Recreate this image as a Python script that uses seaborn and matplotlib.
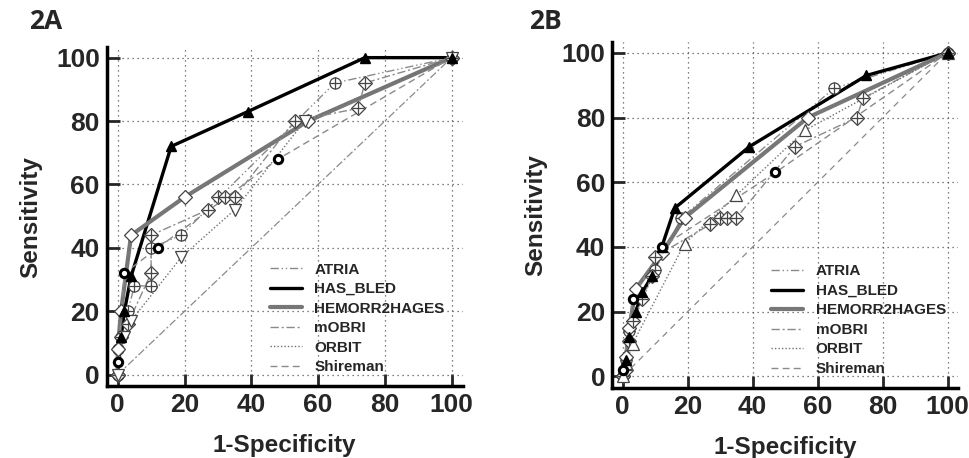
import matplotlib
matplotlib.use("Agg")
import matplotlib.pyplot as plt
from matplotlib.ticker import MultipleLocator
import seaborn as sns
import pandas as pd

# ---- data (1-Specificity %, Sensitivity %) ----
series_names = ["ATRIA", "HAS_BLED", "HEMORR2HAGES", "mOBRI", "ORBIT", "Shireman"]

a_atria_x = [0, 0, 1, 3, 5, 10, 10, 19, 65, 100]
a_atria_y = [0, 8, 12, 20, 28, 28, 40, 44, 92, 100]
a_hasbled_x = [0, 1, 2, 4, 16, 39, 74, 100]
a_hasbled_y = [0, 12, 20, 31, 72, 83, 100, 100]
a_hemorr_x = [0, 0, 1, 4, 20, 57, 100]
a_hemorr_y = [0, 8, 20, 44, 56, 80, 100]
a_mobri_x = [0, 1, 3, 10, 10, 27, 30, 32, 35, 53, 72, 74, 100]
a_mobri_y = [0, 12, 16, 32, 44, 52, 56, 56, 56, 80, 84, 92, 100]
a_orbit_x = [0, 2, 4, 19, 35, 56, 100]
a_orbit_y = [0, 12, 17, 37, 52, 80, 100]
a_shire_x = [0, 0, 2, 12, 48, 100]
a_shire_y = [0, 4, 32, 40, 68, 100]

b_atria_x = [0, 1, 2, 10, 18, 65, 100]
b_atria_y = [0, 5, 14, 33, 49, 89, 100]
b_hasbled_x = [0, 1, 2, 4, 6, 9, 12, 16, 39, 75, 100]
b_hasbled_y = [0, 5, 12, 20, 26, 31, 40, 52, 71, 93, 100]
b_hemorr_x = [0, 1, 2, 4, 12, 19, 57, 100]
b_hemorr_y = [0, 6, 15, 27, 38, 49, 80, 100]
b_mobri_x = [0, 1, 2, 3, 6, 9, 10, 27, 30, 32, 35, 53, 72, 74, 100]
b_mobri_y = [0, 2, 11, 17, 24, 31, 37, 47, 49, 49, 49, 71, 80, 86, 100]
b_orbit_x = [0, 1, 3, 19, 35, 56, 100]
b_orbit_y = [0, 4, 10, 41, 56, 76, 100]
b_shire_x = [0, 0, 3, 12, 47, 100]
b_shire_y = [0, 2, 24, 40, 63, 100]

panel_a = {
    "ATRIA": (a_atria_x, a_atria_y),
    "HAS_BLED": (a_hasbled_x, a_hasbled_y),
    "HEMORR2HAGES": (a_hemorr_x, a_hemorr_y),
    "mOBRI": (a_mobri_x, a_mobri_y),
    "ORBIT": (a_orbit_x, a_orbit_y),
    "Shireman": (a_shire_x, a_shire_y),
}
panel_b = {
    "ATRIA": (b_atria_x, b_atria_y),
    "HAS_BLED": (b_hasbled_x, b_hasbled_y),
    "HEMORR2HAGES": (b_hemorr_x, b_hemorr_y),
    "mOBRI": (b_mobri_x, b_mobri_y),
    "ORBIT": (b_orbit_x, b_orbit_y),
    "Shireman": (b_shire_x, b_shire_y),
}

# line style, colour, width, marker, overlay marker
styles = {
    "ATRIA": ((0, (6, 2, 1, 2, 1, 2)), "#8a8a8a", 1.0, "o", "+"),
    "HAS_BLED": ("-", "black", 2.4, "^", None),
    "HEMORR2HAGES": ("-", "#777777", 3.0, "D", None),
    "mOBRI": ((0, (6, 2, 1.5, 2)), "#8a8a8a", 1.0, "D", "+"),
    "ORBIT": ((0, (1, 1.5)), "#707070", 1.0, "v", None),
    "Shireman": ((0, (5, 3)), "#8a8a8a", 1.0, "o", None),
}

sns.set_style("white")
plt.rcParams["font.family"] = ["Liberation Sans", "DejaVu Sans"]
plt.rcParams["font.weight"] = "bold"

fig = plt.figure(figsize=(9.7, 4.58), dpi=100)
ax_a = fig.add_axes([0.110, 0.157, 0.367, 0.740])
ax_b = fig.add_axes([0.631, 0.153, 0.357, 0.755])


def drawPanel(ax, panel, b_panel):
    # chance diagonal
    diag = pd.DataFrame({"x": [0, 100], "y": [0, 100]})
    sns.lineplot(data=diag, x="x", y="y", ax=ax, color="#8a8a8a", lw=0.9,
                 linestyle=(0, (5, 4)) if b_panel else (0, (6, 2, 1.5, 2)),
                 estimator=None, sort=False, legend=False)
    for name in series_names:
        xs, ys = panel[name]
        df = pd.DataFrame({"x": xs, "y": ys})
        ls, col, lw, mk, over = styles[name]
        if b_panel and name == "ORBIT":
            mk = "^"
        sns.lineplot(data=df, x="x", y="y", ax=ax, color=col, lw=lw, linestyle=ls,
                     estimator=None, sort=False, label=name, zorder=3)
        if name == "HAS_BLED":
            ax.plot(xs[1:], ys[1:], linestyle="none", marker=mk, ms=7, color="black", zorder=5)
        elif name == "Shireman":
            ax.plot(xs[1:-1], ys[1:-1], linestyle="none", marker="o", ms=6, mfc="white",
                    mec="black", mew=2.2, zorder=5)
        else:
            ax.plot(xs, ys, linestyle="none", marker=mk, ms=8 if mk != "D" else 7,
                    mfc="white", mec="#444444", mew=0.9, zorder=4)
            if over:
                ax.plot(xs, ys, linestyle="none", marker=over, ms=8, color="#444444",
                        mew=0.9, zorder=4)

    ax.set_xlim(-3.3, 103.3)
    ax.set_ylim(-3.6, 103.3)
    ax.xaxis.set_major_locator(MultipleLocator(20))
    ax.yaxis.set_major_locator(MultipleLocator(20))
    ax.xaxis.set_minor_locator(MultipleLocator(5))
    ax.yaxis.set_minor_locator(MultipleLocator(5))
    ax.grid(True, which="major", color="#555555", linestyle=(0, (1, 3)), lw=0.9)
    ax.tick_params(which="major", direction="in", length=9, width=2, labelsize=19, pad=5)
    ax.tick_params(which="minor", direction="in", length=5, width=1.2)
    ax.tick_params(left=True, bottom=True)
    for side in ["top", "right"]:
        ax.spines[side].set_visible(False)
    for side in ["left", "bottom"]:
        ax.spines[side].set_linewidth(2.5)
        ax.spines[side].set_color("black")
    for lab in ax.get_xticklabels() + ax.get_yticklabels():
        lab.set_fontweight("bold")
    ax.set_xlabel("1-Specificity", fontsize=17.5, fontweight="bold", labelpad=12)
    ax.set_ylabel("Sensitivity", fontsize=17.5, fontweight="bold", labelpad=10)
    leg = ax.legend(loc="lower left", bbox_to_anchor=(0.42, -0.005), frameon=False,
                    handlelength=2.1, labelspacing=0.36, handletextpad=0.8,
                    prop={"weight": "bold", "size": 11})
    for line in leg.get_lines():
        line.set_marker("")


drawPanel(ax_a, panel_a, False)
drawPanel(ax_b, panel_b, True)

fig.text(0.030, 0.953, "2A", fontsize=19, fontweight="bold", family=["Open Sans", "DejaVu Sans"],
         va="center")
fig.text(0.545, 0.953, "2B", fontsize=19, fontweight="bold", family=["Open Sans", "DejaVu Sans"],
         va="center")

fig.savefig("out.png", dpi=100)
